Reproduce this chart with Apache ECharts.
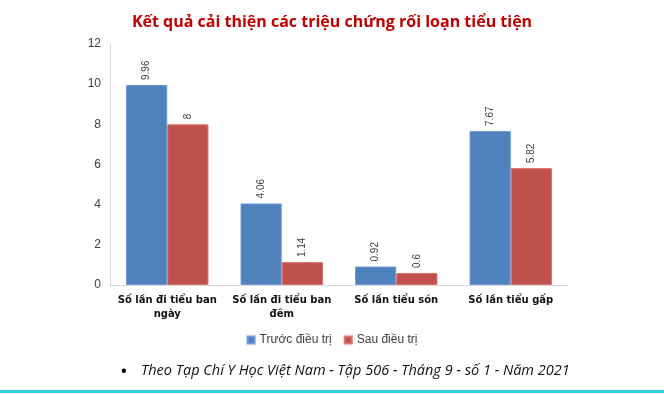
<!DOCTYPE html>
<html><head><meta charset="utf-8">
<script src="https://cdn.jsdelivr.net/npm/echarts@6/dist/echarts.min.js"></script>
<style>
html,body{margin:0;padding:0;background:#fff;}
#c{width:664px;height:394px;position:relative;}
#line{position:absolute;left:0;top:390px;width:664px;height:3px;background:#33d0dc;}
</style></head><body>
<div id="c"></div><div id="line"></div>
<script>
const categories = ['Số lần đi tiểu ban\nngày', 'Số lần đi tiểu ban\nđêm', 'Số lần tiểu són', 'Số lần tiểu gấp'];
const before = [9.96, 4.06, 0.92, 7.67];
const after = [8, 1.14, 0.6, 5.82];
const seriesNames = ['Trước điều trị', 'Sau điều trị'];
const yTicks = {min: 0, max: 12, interval: 2};

const chart = echarts.init(document.getElementById('c'));
const lbl = {show: true, position: 'top', rotate: 90, align: 'left', verticalAlign: 'middle', distance: 5,
  fontSize: 10, color: '#404040', fontFamily: 'Liberation Sans'};
chart.setOption({
  animation: false,
  title: {text: 'Kết quả cải thiện các triệu chứng rối loạn tiểu tiện', left: 'center', top: 9,
    textStyle: {fontFamily: 'Open Sans', fontWeight: 'bold', fontSize: 16, color: '#c00000'}},
  legend: {data: seriesNames, top: 329, left: 'center', itemWidth: 7, itemHeight: 7, itemGap: 12,
    icon: 'rect', textStyle: {fontFamily: 'Liberation Sans', fontSize: 12, color: '#404040'}},
  graphic: [{type: 'text', left: 121, top: 364, style: {text: '•', font: 'bold 15px "Open Sans"', fill: '#000'}},
    {type: 'text', left: 141, top: 363, style: {text: 'Theo Tạp Chí Y Học Việt Nam - Tập 506 - Tháng 9 - số 1 - Năm 2021',
     font: 'italic 14.5px "Open Sans"', fill: '#111'}}],
  grid: {left: 110, right: 96, top: 44, bottom: 109, containLabel: false},
  xAxis: {type: 'category', data: categories,
    axisLine: {lineStyle: {color: '#d9d9d9'}}, axisTick: {show: false},
    axisLabel: {fontFamily: 'DejaVu Sans', fontWeight: 'bold', fontSize: 10, color: '#111', margin: 8, lineHeight: 14, interval: 0}},
  yAxis: {type: 'value', min: yTicks.min, max: yTicks.max, interval: yTicks.interval,
    axisLine: {show: true, lineStyle: {color: '#d9d9d9'}}, axisTick: {show: false}, splitLine: {show: false},
    axisLabel: {fontFamily: 'Liberation Sans', fontSize: 12, color: '#404040', margin: 9}},
  series: [
    {name: seriesNames[0], type: 'bar', data: before, barGap: '0%', barCategoryGap: '28%',
     itemStyle: {color: '#4f81bd', borderColor: '#6f9bd3', borderWidth: 1}, label: lbl},
    {name: seriesNames[1], type: 'bar', data: after,
     itemStyle: {color: '#c0504d', borderColor: '#d97370', borderWidth: 1}, label: lbl}
  ]
});
</script></body></html>
